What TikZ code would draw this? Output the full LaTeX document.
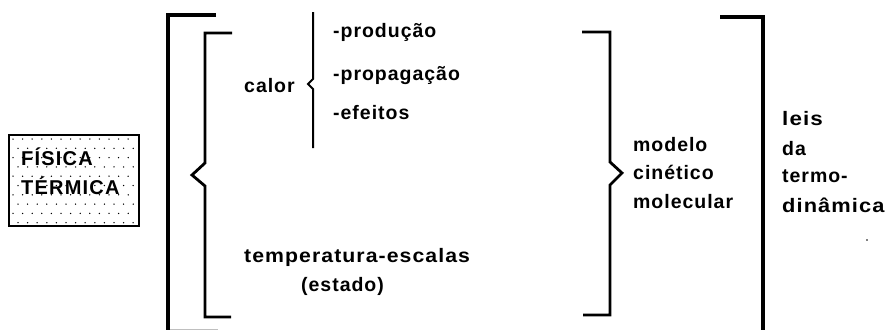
\documentclass[tikz,border=0pt]{standalone}
\usepackage{fontspec}
\setmainfont{Liberation Sans}
\newfontfamily\lblfont{Liberation Sans}[LetterSpace=5]
\newfontfamily\boxfont{Liberation Sans}[LetterSpace=6]
\begin{document}
\begin{tikzpicture}[x=1pt,y=-1pt,
  lbl/.style={anchor=base west,inner sep=0pt,font=\lblfont\bfseries\fontsize{19.5}{22}\selectfont},
  boxlbl/.style={anchor=base west,inner sep=0pt,font=\boxfont\bfseries\fontsize{20}{23}\selectfont},
  thickbr/.style={line width=3.8pt,line join=miter},
  midbr/.style={line width=2.8pt,line join=miter},
  thinbr/.style={line width=2pt,line join=miter}]
\useasboundingbox (0,0) rectangle (889,330);
% box
\draw[line width=1.4pt] (9,135) rectangle (139,226);
\foreach \k in {0,...,9}{
  \pgfmathsetmacro{\yy}{139+9.3*\k}
  \pgfmathsetmacro{\off}{mod(\k,2)*5}
  \foreach \j in {0,...,12}{
    \pgfmathsetmacro{\xx}{13+\off+9.6*\j}
    \ifdim \xx pt<136pt \fill (\xx,\yy) circle (0.75pt); \fi
  }
}
\node[boxlbl] (fis) at (21,165) {FÍSICA};
\node[boxlbl] (ter) at (21,194) {TÉRMICA};
% outer left bracket
\draw[thickbr] (216,15) -- (168,15) -- (168,330);
\draw[line width=1pt,black!25] (170,329.5) -- (218,329.5);
% inner left bracket
\draw[midbr] (232,33) -- (205,33) -- (205,163) -- (192,175) -- (205,186) -- (205,317) -- (231,317);
% calor brace
\draw[thinbr] (313,12) -- (313,79) -- (308,84) -- (313,89) -- (313,148);
% inner right bracket
\draw[midbr] (582,32) -- (610,32) -- (610,162) -- (622,173) -- (610,185) -- (610,315) -- (583,315);
% outer right bracket
\draw[thickbr] (720,17) -- (763,17) -- (763,330);
% texts
\node[lbl] (calor) at (244,92) {calor};
\node[lbl] (prod) at (333,37) {-produção};
\node[lbl] (prop) at (333,80) {-propagação};
\node[lbl] (efe) at (333,119) {-efeitos};
\node[lbl] (temp) at (244,262) {\scalebox{1.09}[1]{temperatura-escalas}};
\node[lbl] (est) at (301,291) {(estado)};
\node[lbl] (mod1) at (633,151) {modelo};
\node[lbl] (mod2) at (633,179) {cinético};
\node[lbl] (mod3) at (633,208) {molecular};
\node[lbl] (leis1) at (782,125) {\scalebox{1.15}[1]{leis}};
\node[lbl] (leis2) at (782,155) {da};
\node[lbl] (leis3) at (782,182) {termo-};
\node[lbl] (leis4) at (782,212) {\scalebox{1.12}[1]{dinâmica}};
\fill (867,240) circle (0.9pt);
\end{tikzpicture}
\end{document}
